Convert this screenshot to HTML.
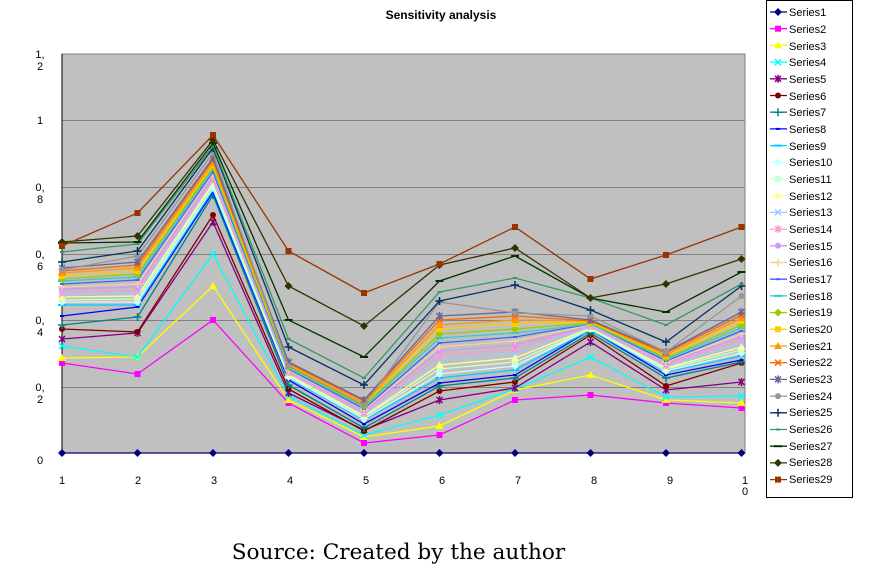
<!DOCTYPE html>
<html><head><meta charset="utf-8"><style>
body{margin:0;background:#fff;width:871px;height:586px;overflow:hidden;font-family:"Liberation Sans",sans-serif}
svg{position:absolute;left:0;top:0}
.src{position:absolute;left:0;width:797px;text-align:center;top:540px;font:21.6px "DejaVu Serif","Liberation Serif",serif;color:#000}
</style></head><body>
<svg id="s" width="871" height="586" xmlns="http://www.w3.org/2000/svg" font-family="Liberation Sans, sans-serif">
<text x="441" y="19" font-size="12" font-weight="bold" text-anchor="middle">Sensitivity analysis</text>
<rect x="62" y="54" width="683" height="399" fill="#C0C0C0" stroke="#808080"/>
<g stroke="#808080" stroke-width="1">
<line x1="62" x2="745" y1="120.5" y2="120.5"/><line x1="62" x2="745" y1="187.5" y2="187.5"/>
<line x1="62" x2="745" y1="254.5" y2="254.5"/><line x1="62" x2="745" y1="320.5" y2="320.5"/>
<line x1="62" x2="745" y1="387.5" y2="387.5"/></g>
<line x1="62" y1="54" x2="62" y2="453" stroke="#000"/>
<g font-size="11" text-anchor="middle">
<text x="40" y="58">1,</text><text x="40" y="70">2</text>
<text x="40" y="124">1</text>
<text x="40" y="191">0,</text><text x="40" y="203">8</text>
<text x="40" y="258">0,</text><text x="40" y="270">6</text>
<text x="40" y="324">0,</text><text x="40" y="336">4</text>
<text x="40" y="391">0,</text><text x="40" y="403">2</text>
<text x="40" y="464">0</text>
<text x="62" y="484">1</text><text x="138" y="484">2</text><text x="214" y="484">3</text>
<text x="290" y="484">4</text><text x="366" y="484">5</text><text x="442" y="484">6</text>
<text x="518" y="484">7</text><text x="594" y="484">8</text><text x="670" y="484">9</text>
<text x="745" y="484">1</text><text x="745" y="495">0</text>
</g>
<g id="data"></g>
<rect x="766.5" y="0.5" width="86" height="497" fill="#fff" stroke="#000"/>
<g id="legm"></g>
<g id="leg" font-size="11">
<text x="789" y="16">Series1</text><text x="789" y="33">Series2</text><text x="789" y="50">Series3</text>
<text x="789" y="66">Series4</text><text x="789" y="83">Series5</text><text x="789" y="100">Series6</text>
<text x="789" y="116">Series7</text><text x="789" y="133">Series8</text><text x="789" y="150">Series9</text>
<text x="789" y="166">Series10</text><text x="789" y="183">Series11</text><text x="789" y="200">Series12</text>
<text x="789" y="216">Series13</text><text x="789" y="233">Series14</text><text x="789" y="250">Series15</text>
<text x="789" y="266">Series16</text><text x="789" y="283">Series17</text><text x="789" y="300">Series18</text>
<text x="789" y="316">Series19</text><text x="789" y="333">Series20</text><text x="789" y="350">Series21</text>
<text x="789" y="366">Series22</text><text x="789" y="383">Series23</text><text x="789" y="400">Series24</text>
<text x="789" y="416">Series25</text><text x="789" y="433">Series26</text><text x="789" y="450">Series27</text>
<text x="789" y="466">Series28</text><text x="789" y="483">Series29</text>
</g>
</svg>
<div class="src">Source: Created by the author</div>
<script>
var C=["#000080","#FF00FF","#FFFF00","#00FFFF","#800080","#800000","#008080","#0000FF","#00CCFF","#CCFFFF","#CCFFCC","#FFFF99","#99CCFF","#FF99CC","#CC99FF","#FFCC99","#3366FF","#33CCCC","#99CC00","#FFCC00","#FF9900","#FF6600","#666699","#969696","#003366","#339966","#003300","#333300","#993300"];
var X=[62,137.5,213,288.5,364,439.5,515,590.5,666,741.5];
var D={};
D[1]=[453,453,453,453,453,453,453,453,453,453];
D[2]=[363,374,320,403,443,435,400,395,403,408];
D[3]=[358,357,286,400,437,426,390,375,400,403];
D[4]=[346,357,254,396,435,415,389,357,397,396];
D[5]=[339,333,222,393,430,400,388,342,390,382];
D[6]=[329,332,215,389,431,391,382,335,386,363];
D[7]=[325,317,195,385,428,386,378,333,378,362];
D[8]=[316,307,192,380,424,383,375,330,375,360];
D[24]=[270,256,153,366,405,302,313,316,352,296];
D[25]=[262,251,148,347,385,301,285,310,342,286];
D[26]=[252,244,146,339,378,292,278,298,325,284];
D[27]=[243,242,143,320,357,281,256,298,312,272];
D[28]=[242,236,140,286,326,265,248,298,284,259];
D[29]=[246,213,135,251,293,264,227,279,255,227];
var A=[305,305,190,378,420,378,370,330,372,356],B=[268,262,158,362,400,316,312,320,352,312];
for(var i=9;i<=23;i++){var t=(i-9)/14;D[i]=A.map(function(a,k){return Math.round(a+(B[k]-a)*t);});}
function mk(x,y,c,i){var m=(i-1)%9,s=3;
if(m==0)return '<path d="M'+x+' '+(y-4)+'L'+(x+4)+' '+y+'L'+x+' '+(y+4)+'L'+(x-4)+' '+y+'Z" fill="'+c+'"/>';
if(m==1)return '<rect x="'+(x-s)+'" y="'+(y-s)+'" width="'+2*s+'" height="'+2*s+'" fill="'+c+'"/>';
if(m==2)return '<path d="M'+x+' '+(y-4)+'L'+(x+4)+' '+(y+3)+'L'+(x-4)+' '+(y+3)+'Z" fill="'+c+'"/>';
if(m==3)return '<path d="M'+(x-3)+' '+(y-3)+'L'+(x+3)+' '+(y+3)+'M'+(x+3)+' '+(y-3)+'L'+(x-3)+' '+(y+3)+'" stroke="'+c+'" stroke-width="1.5"/>';
if(m==4)return '<path d="M'+(x-3)+' '+(y-3)+'L'+(x+3)+' '+(y+3)+'M'+(x+3)+' '+(y-3)+'L'+(x-3)+' '+(y+3)+'M'+x+' '+(y-4)+'L'+x+' '+(y+4)+'" stroke="'+c+'" stroke-width="1.5"/>';
if(m==5)return '<circle cx="'+x+'" cy="'+y+'" r="3" fill="'+c+'"/>';
if(m==6)return '<path d="M'+(x-4)+' '+y+'L'+(x+4)+' '+y+'M'+x+' '+(y-4)+'L'+x+' '+(y+4)+'" stroke="'+c+'" stroke-width="1.5"/>';
if(m==7)return '<path d="M'+(x-2)+' '+y+'L'+(x+2)+' '+y+'" stroke="'+c+'" stroke-width="2"/>';
return '<path d="M'+(x-4)+' '+y+'L'+(x+4)+' '+y+'" stroke="'+c+'" stroke-width="2"/>';}
var h="";
for(var i=1;i<=29;i++){var p=D[i].map(function(y,k){return X[k]+","+y}).join(" ");
h+='<polyline points="'+p+'" fill="none" stroke="'+C[i-1]+'" stroke-width="1.3"/>';
D[i].forEach(function(y,k){h+=mk(X[k],y,C[i-1],i)});}
document.getElementById("data").innerHTML=h;
var l="";for(var i=1;i<=29;i++){var y=12+16.7*(i-1);l+='<line x1="770" x2="787" y1="'+y+'" y2="'+y+'" stroke="'+C[i-1]+'" stroke-width="1.3"/>'+mk(778,y,C[i-1],i);}
document.getElementById("legm").innerHTML=l;
</script>
</body></html>
